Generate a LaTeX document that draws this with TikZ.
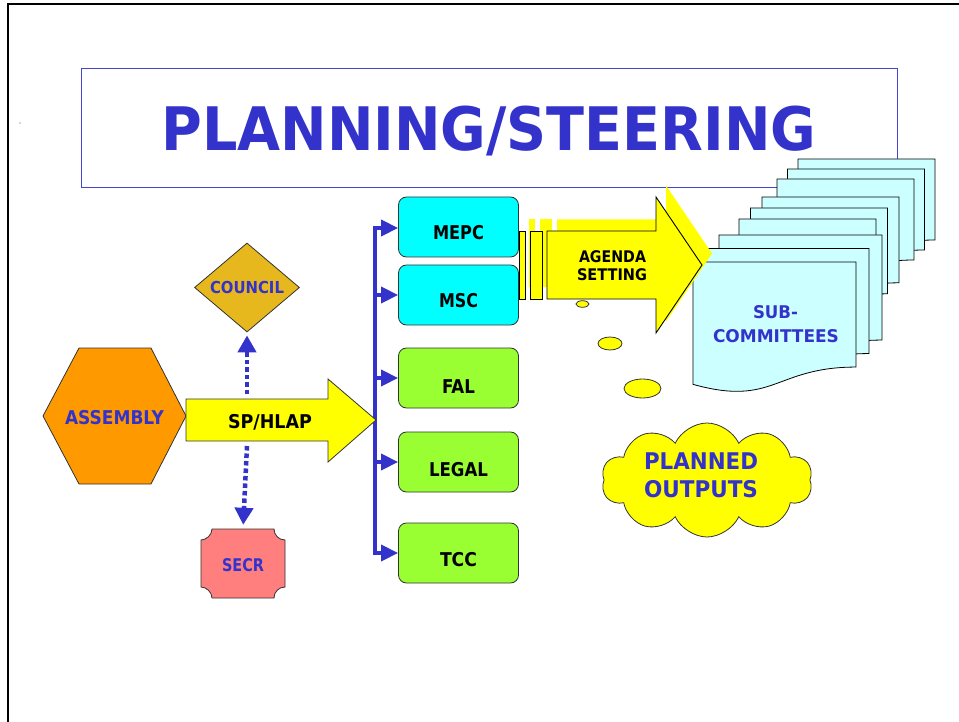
\documentclass[tikz,border=0pt]{standalone}
\usepackage{fontspec}
\setmainfont{DejaVu Sans}
\usepackage{graphicx}
\usetikzlibrary{shapes.geometric,shapes.symbols,arrows.meta}

\definecolor{ink}{HTML}{3333CC}
\definecolor{titleline}{HTML}{4444CC}
\definecolor{edge}{HTML}{333333}
\definecolor{boxcyan}{HTML}{00FFFF}
\definecolor{boxgreen}{HTML}{99FF33}
\definecolor{hexorange}{HTML}{FF9900}
\definecolor{gold}{HTML}{E6B81E}
\definecolor{secrpink}{HTML}{FF7F7F}
\definecolor{ayellow}{HTML}{FFFF00}
\definecolor{docfill}{HTML}{CCFFFF}

% set a label at a given natural width (horizontal scaling only)
\newsavebox\fitbox
\newlength\fitlen
\newcommand\fitto[2]{\sbox\fitbox{#2}\setlength\fitlen{\wd\fitbox}%
  \pgfmathsetmacro\fitratio{#1/\fitlen}\scalebox{\fitratio}[1]{\usebox\fitbox}}
\newcommand\lblsize[1]{\fontsize{#1}{#1}\selectfont\bfseries}

% one page of a stacked document: left, top, width, height
\newcommand\docpage[4]{%
  \path[docpage] (#1,#2) -- ({#1+#3},#2) -- ({#1+#3},{#2+0.802*#4})
    .. controls ({#1+0.5*#3},{#2+0.802*#4}) and ({#1+0.5*#3},{#2+1.1075*#4})
    .. (#1,{#2+0.934*#4}) -- cycle;}

% the striped block arrow of the agenda setting
\newcommand\agendapaths[1]{%
  \path[#1] (519,231) rectangle (525,299);
  \path[#1] (530,231) rectangle (542,299);
  \path[#1] (547,231) -- (656,231) -- (656,197) -- (702,265) -- (656,333)
    -- (656,299) -- (547,299) -- cycle;}

\begin{document}
\begin{tikzpicture}[x=1pt,y=-1pt,
  bushead/.tip={Triangle[length=17pt,width=16pt]},
  lbl/.style={inner sep=0pt, anchor=base},
  cbox/.style={draw=edge, line width=0.8pt, rounded corners=8pt,
    minimum width=120pt, minimum height=60pt, inner sep=0pt},
  docpage/.style={fill=docfill, draw=black, line width=0.8pt},
  bus/.style={draw=ink, line width=3.5pt},
  dotarrow/.style={draw=ink, line width=4.5pt, dash pattern=on 4.5pt off 3pt,
    -{Triangle[length=17pt,width=18pt]}},
  bubble/.style={ellipse, fill=ayellow, draw=edge, line width=0.8pt, inner sep=0pt},
]
\useasboundingbox (0,0) rectangle (959,722);

% page frame
\draw[line width=2pt] (7.7,722) -- (7.7,3.7) -- (959,3.7);
\fill[black!70] (20,123) circle (0.6);

% title
\node[draw=titleline, line width=1pt, minimum width=816pt, minimum height=119pt,
  inner sep=0pt, anchor=north west] (titlebox) at (81,68) {};
\node[lbl, text=ink, font=\lblsize{60}] (title) at (489,151)
  {\fitto{655}{PLANNING/STEERING}};

% sub-committees: three stacks of three pages
\docpage{798}{159}{137}{101}
\docpage{787.5}{169}{137}{101}
\docpage{777}{179}{137}{101}
\docpage{762}{197}{137}{107}
\docpage{750.5}{208}{137}{107}
\docpage{739}{219}{137}{107}
\docpage{719}{235}{163}{131}
\docpage{706}{248.5}{163}{131}
\docpage{693}{262}{163}{131}
\node[lbl, text=ink, font=\lblsize{17.5}] (sub1) at (775.5,318) {\fitto{45}{SUB-}};
\node[lbl, text=ink, font=\lblsize{17.5}] (sub2) at (776,342) {\fitto{126}{COMMITTEES}};

% agenda setting arrow with its offset shadow
\begin{scope}[shift={(10,-11.5)}]
  \agendapaths{fill=ayellow}
\end{scope}
\agendapaths{fill=ayellow, draw=black, line width=0.9pt}
\node[lbl, font=\lblsize{16}] (ag1) at (612.5,262) {\fitto{67}{AGENDA}};
\node[lbl, font=\lblsize{16}] (ag2) at (612,281) {\fitto{70}{SETTING}};

% committees
\node[cbox, fill=boxcyan] (mepc) at (458.5,227) {};
\node[cbox, fill=boxcyan] (msc) at (458.5,295) {};
\node[cbox, fill=boxgreen] (fal) at (458.5,378) {};
\node[cbox, fill=boxgreen] (legal) at (458.5,462) {};
\node[cbox, fill=boxgreen] (tcc) at (458.5,553) {};
\node[lbl, font=\lblsize{19}] (mepc-t) at (458.5,240) {\fitto{51}{MEPC}};
\node[lbl, font=\lblsize{19}] (msc-t) at (458.5,308) {\fitto{39}{MSC}};
\node[lbl, font=\lblsize{19}] (fal-t) at (458.5,393) {\fitto{33}{FAL}};
\node[lbl, font=\lblsize{19}] (legal-t) at (458.5,476) {\fitto{59}{LEGAL}};
\node[lbl, font=\lblsize{19}] (tcc-t) at (458.5,566) {\fitto{37}{TCC}};

% distribution bus
\coordinate (bustop) at (375,228);
\coordinate (busbot) at (375,553);
\draw[bus, {bushead}-{bushead}]
  (bustop -| mepc.west) -- (bustop) -- (busbot) -- (tcc.west);
\foreach \b in {msc,fal,legal}
  \draw[bus, -{bushead}] (bustop |- \b.west) -- (\b.west);

% assembly
\path[fill=hexorange, draw=edge, line width=0.8pt]
  (43,416) -- (79,348) -- (151,348) -- (186,416) -- (151,484) -- (79,484) -- cycle;
\node[lbl, text=ink, font=\lblsize{19}] (assembly) at (114.5,424) {\fitto{99}{ASSEMBLY}};

% SP/HLAP block arrow
\path[fill=ayellow, draw=edge, line width=0.8pt]
  (186,399) -- (328,399) -- (328,379) -- (376,420) -- (328,462) -- (328,441)
  -- (186,441) -- cycle;
\node[lbl, font=\lblsize{19}] (sphlap) at (270,428) {\fitto{84}{SP/HLAP}};

% council
\node[diamond, aspect=1.18, minimum width=105pt, minimum height=89pt, inner sep=0pt,
  fill=gold, draw=edge, line width=0.8pt] (council) at (247,287.5) {};
\node[lbl, text=ink, font=\lblsize{16.5}] (council-t) at (247,294) {\fitto{74}{COUNCIL}};

% secretariat plaque
\node[minimum width=84pt, minimum height=69pt, inner sep=0pt] (secr) at (243,563.5) {};
\path[fill=secrpink, draw=edge, line width=0.8pt]
  (212,529) -- (274,529) .. controls (274,535.1) and (278.9,540) .. (285,540)
  -- (285,587) .. controls (278.9,587) and (274,591.9) .. (274,598)
  -- (212,598) .. controls (212,591.9) and (206.1,587) .. (201,587)
  -- (201,540) .. controls (206.1,540) and (212,535.1) .. (212,529) -- cycle;
\node[lbl, text=ink, font=\lblsize{17.5}] (secr-t) at (243,571) {\fitto{42}{SECR}};

% dotted links from SP/HLAP
\coordinate (upfrom) at (247,394);
\coordinate (downfrom) at (247,446);
\draw[dotarrow, shorten >=3pt] (upfrom) -- (council.south);
\draw[dotarrow, shorten >=4pt] (downfrom) -- (secr.north);

% thought bubbles and planned outputs
\node[bubble, minimum width=13pt, minimum height=6.6pt] (b1) at (582.5,304) {};
\node[bubble, minimum width=24pt, minimum height=13pt] (b2) at (610,343.5) {};
\node[bubble, minimum width=37pt, minimum height=19pt] (b3) at (642.5,388.5) {};
\node[cloud, cloud puffs=10, cloud puff arc=130, aspect=1.85, inner sep=0pt,
  minimum width=211pt, minimum height=114pt, fill=ayellow, draw=edge,
  line width=0.8pt] (outputs) at (707,480) {};
\node[lbl, text=ink, font=\lblsize{23}] (out1) at (701,469) {\fitto{114}{PLANNED}};
\node[lbl, text=ink, font=\lblsize{23}] (out2) at (701,497) {\fitto{114}{OUTPUTS}};
\end{tikzpicture}
\end{document}
